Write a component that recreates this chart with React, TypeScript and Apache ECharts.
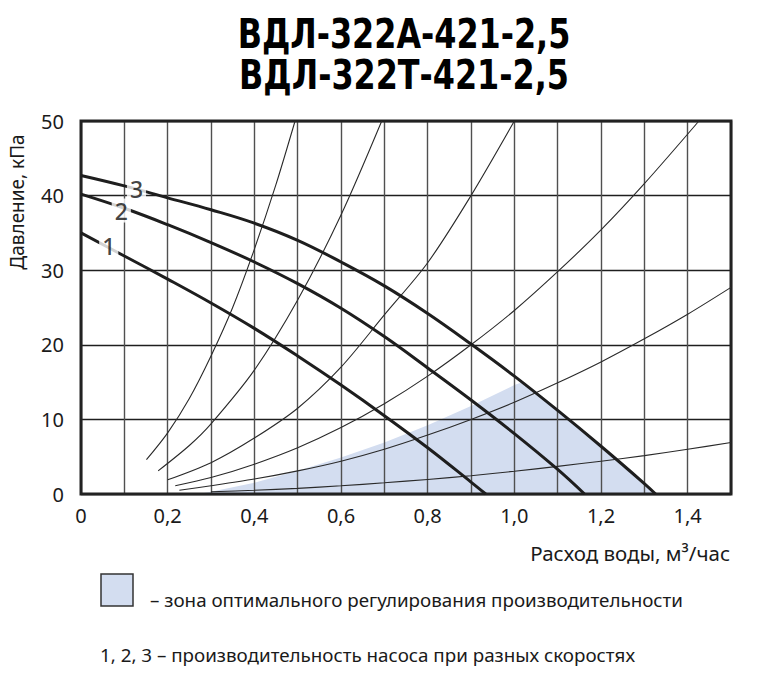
import React, { useEffect, useRef } from "react";
import * as echarts from "echarts";

const titleLines = ["ВДЛ-322А-421-2,5", "ВДЛ-322Т-421-2,5"];
const yAxisName = "Давление, кПа";
const xAxisName = "Расход воды, м³/час";
const legendZone = "– зона оптимального регулирования производительности";
const legendSpeeds = "1, 2, 3 – производительность насоса при разных скоростях";

const xTickValues = [0, 0.2, 0.4, 0.6, 0.8, 1.0, 1.2, 1.4];
const xTickLabels = ["0", "0,2", "0,4", "0,6", "0,8", "1,0", "1,2", "1,4"];
const yTickValues = [0, 10, 20, 30, 40, 50];
const yTickLabels = ["0", "10", "20", "30", "40", "50"];

// pump curves (speeds 1, 2, 3)
const pump1X = [0, 0.1, 0.2, 0.3, 0.4, 0.5, 0.6, 0.7, 0.8, 0.9, 0.934];
const pump1Y = [35, 31.9, 28.8, 25.6, 22.2, 18.5, 14.6, 10.5, 6.2, 1.6, 0];
const pump2X = [0, 0.1, 0.2, 0.3, 0.4, 0.5, 0.6, 0.7, 0.8, 0.9, 1.0, 1.1, 1.162];
const pump2Y = [40.2, 38.3, 36.1, 33.7, 31.1, 28.2, 24.9, 21.1, 16.9, 12.6, 8.1, 3.3, 0];
const pump3X = [0, 0.1, 0.2, 0.3, 0.4, 0.5, 0.6, 0.7, 0.8, 0.9, 1.0, 1.1, 1.2, 1.3, 1.326];
const pump3Y = [42.7, 41.3, 39.7, 38.1, 36.3, 34.0, 31.1, 27.9, 24.2, 20.1, 15.8, 11.2, 6.4, 1.4, 0];

const curveLabelX = [0.064, 0.093, 0.128];
const curveLabelY = [33.2, 38.0, 40.9];
const curveLabelText = ["1", "2", "3"];

// system (resistance) curves
const sysAX = [0.151, 0.2, 0.25, 0.3, 0.35, 0.4, 0.45, 0.494];
const sysAY = [4.6, 8.2, 12.8, 18.5, 25, 32.8, 41.5, 50];
const sysBX = [0.178, 0.25, 0.3, 0.4, 0.5, 0.6, 0.694];
const sysBY = [3.1, 6.5, 9.4, 16.6, 26, 37.4, 50];
const sysCX = [0.2, 0.3, 0.4, 0.5, 0.6, 0.7, 0.8, 0.9, 1.0];
const sysCY = [1.9, 4.2, 7.5, 11.5, 17, 24, 31, 40, 50];
const sysDX = [0.2175, 0.3, 0.4, 0.5, 0.6, 0.7, 0.8, 0.9, 1.0, 1.1, 1.2, 1.3, 1.426];
const sysDY = [1.1, 2.2, 4.0, 6.2, 8.9, 12.1, 15.8, 20, 24.6, 29.8, 35.4, 41.6, 50];
const sysEX = [0.227, 0.3, 0.4, 0.5, 0.6, 0.7, 0.8, 0.9, 1.0, 1.1, 1.2, 1.3, 1.4, 1.5];
const sysEY = [0.5, 1.1, 2.0, 3.1, 4.4, 6.0, 7.9, 10, 12.3, 14.9, 17.7, 20.8, 24.1, 27.7];
const sysFX = [0.3, 0.4, 0.5, 0.6, 0.7, 0.8, 0.9, 1.0, 1.1, 1.2, 1.3, 1.4, 1.5];
const sysFY = [0.3, 0.5, 0.75, 1.1, 1.5, 1.95, 2.45, 3.05, 3.7, 4.4, 5.15, 6.0, 6.9];

// optimal regulation zone outline (upper edge)
const zoneX = [0.27, 0.3, 0.4, 0.5, 0.6, 0.7, 0.8, 0.9, 1.0, 1.02, 1.1, 1.2, 1.3, 1.326];
const zoneY = [0, 0.3, 1.5, 3.1, 4.9, 6.9, 9.2, 11.8, 14.6, 15.0, 11.2, 6.4, 1.4, 0];

const zip = (xs: number[], ys: number[]) => xs.map((x, i) => [x, ys[i]]);

const FONT = '"Noto Sans", "Open Sans", sans-serif';
const TITLE_FONT = '"Liberation Sans Narrow", "DejaVu Sans Condensed", sans-serif';
const ZONE_COLOR = "#d3ddf0";

export default function App() {
  const ref = useRef<HTMLDivElement>(null);
  useEffect(() => {
    document.body.style.margin = "0";
    if (!ref.current) return;
    const chart = echarts.init(ref.current, undefined, { renderer: "svg" });

    const pumpSeries = [
      [pump1X, pump1Y],
      [pump2X, pump2Y],
      [pump3X, pump3Y],
    ].map(([xs, ys], i) => ({
      type: "line",
      name: "pump" + (i + 1),
      data: zip(xs, ys),
      smooth: 0.4,
      symbol: "none",
      z: 4,
      lineStyle: { color: "#1e1e1e", width: 3 },
    }));

    const sysSeries = [
      [sysAX, sysAY],
      [sysBX, sysBY],
      [sysCX, sysCY],
      [sysDX, sysDY],
      [sysEX, sysEY],
      [sysFX, sysFY],
    ].map(([xs, ys], i) => ({
      type: "line",
      name: "sys" + i,
      data: zip(xs, ys),
      smooth: 0.3,
      symbol: "none",
      z: 3,
      lineStyle: { color: "#2a2a2a", width: 1.1 },
    }));

    const titleText = (text: string, y: number) => ({
      type: "text",
      x: 404,
      y,
      scaleX: 0.885,
      originX: 0,
      style: {
        text,
        fontSize: 40,
        fontWeight: "bold",
        fontFamily: TITLE_FONT,
        fill: "#000",
        align: "center",
        verticalAlign: "middle",
      },
    });

    chart.setOption({
      animation: false,
      grid: {
        left: 81,
        right: 30,
        top: 121,
        bottom: 190,
        show: true,
        borderColor: "#222",
        borderWidth: 3,
        z: 1,
      },
      xAxis: {
        type: "value",
        min: 0,
        max: 1.5,
        interval: 0.1,
        axisLine: { show: false },
        axisTick: { show: false },
        splitLine: { show: true, lineStyle: { color: "#505050", width: 1.4 } },
        axisLabel: {
          margin: 11,
          fontSize: 20,
          color: "#1a1a1a",
          fontFamily: FONT,
          formatter: (v: number) => {
            const idx = xTickValues.findIndex((t) => Math.abs(t - v) < 1e-6);
            return idx >= 0 ? xTickLabels[idx] : "";
          },
        },
      },
      yAxis: {
        type: "value",
        min: 0,
        max: 50,
        interval: 10,
        axisLine: { show: false },
        axisTick: { show: false },
        splitLine: { show: true, lineStyle: { color: "#1e1e1e", width: 1.3 } },
        axisLabel: {
          margin: 17,
          fontSize: 20,
          color: "#1a1a1a",
          fontFamily: FONT,
          formatter: (v: number) => {
            const idx = yTickValues.findIndex((t) => Math.abs(t - v) < 1e-6);
            return idx >= 0 ? yTickLabels[idx] : "";
          },
        },
      },
      series: [
        {
          type: "line",
          name: "zone",
          data: zip(zoneX, zoneY),
          symbol: "none",
          z: -1,
          lineStyle: { width: 0, color: ZONE_COLOR },
          areaStyle: { color: ZONE_COLOR, opacity: 1, origin: "start" },
        },
        ...sysSeries,
        ...pumpSeries,
        {
          type: "scatter",
          name: "labels",
          symbolSize: 1,
          z: 6,
          itemStyle: { color: "rgba(255,255,255,0)" },
          data: curveLabelX.map((x, i) => ({ value: [x, curveLabelY[i]], name: curveLabelText[i] })),
          label: {
            show: true,
            position: "inside",
            formatter: "{b}",
            fontSize: 23,
            fontFamily: FONT,
            fontWeight: 500,
            color: "#111",
            backgroundColor: "#fff",
            padding: [1, 3, 0, 3],
          },
        },
      ],
      graphic: [
        titleText(titleLines[0], 34),
        titleText(titleLines[1], 75),
        {
          type: "text",
          x: 17,
          y: 202,
          rotation: Math.PI / 2,
          style: {
            text: yAxisName,
            fontSize: 19,
            fontFamily: FONT,
            fill: "#1a1a1a",
            align: "center",
            verticalAlign: "middle",
          },
        },
        {
          type: "text",
          x: 730,
          y: 553,
          style: {
            text: xAxisName,
            fontSize: 20.5,
            fontFamily: FONT,
            fill: "#1a1a1a",
            align: "right",
            verticalAlign: "middle",
          },
        },
        {
          type: "rect",
          shape: { x: 101, y: 574, width: 32, height: 32 },
          style: { fill: ZONE_COLOR, stroke: "#333", lineWidth: 1.5 },
        },
        {
          type: "text",
          x: 150,
          y: 600,
          style: {
            text: legendZone,
            fontSize: 18.8,
            fontFamily: FONT,
            fill: "#1a1a1a",
            align: "left",
            verticalAlign: "middle",
          },
        },
        {
          type: "text",
          x: 100,
          y: 655,
          style: {
            text: legendSpeeds,
            fontSize: 18.8,
            fontFamily: FONT,
            fill: "#1a1a1a",
            align: "left",
            verticalAlign: "middle",
          },
        },
      ],
    });
    return () => chart.dispose();
  }, []);
  return <div ref={ref} style={{ width: 761, height: 684 }} />;
}
